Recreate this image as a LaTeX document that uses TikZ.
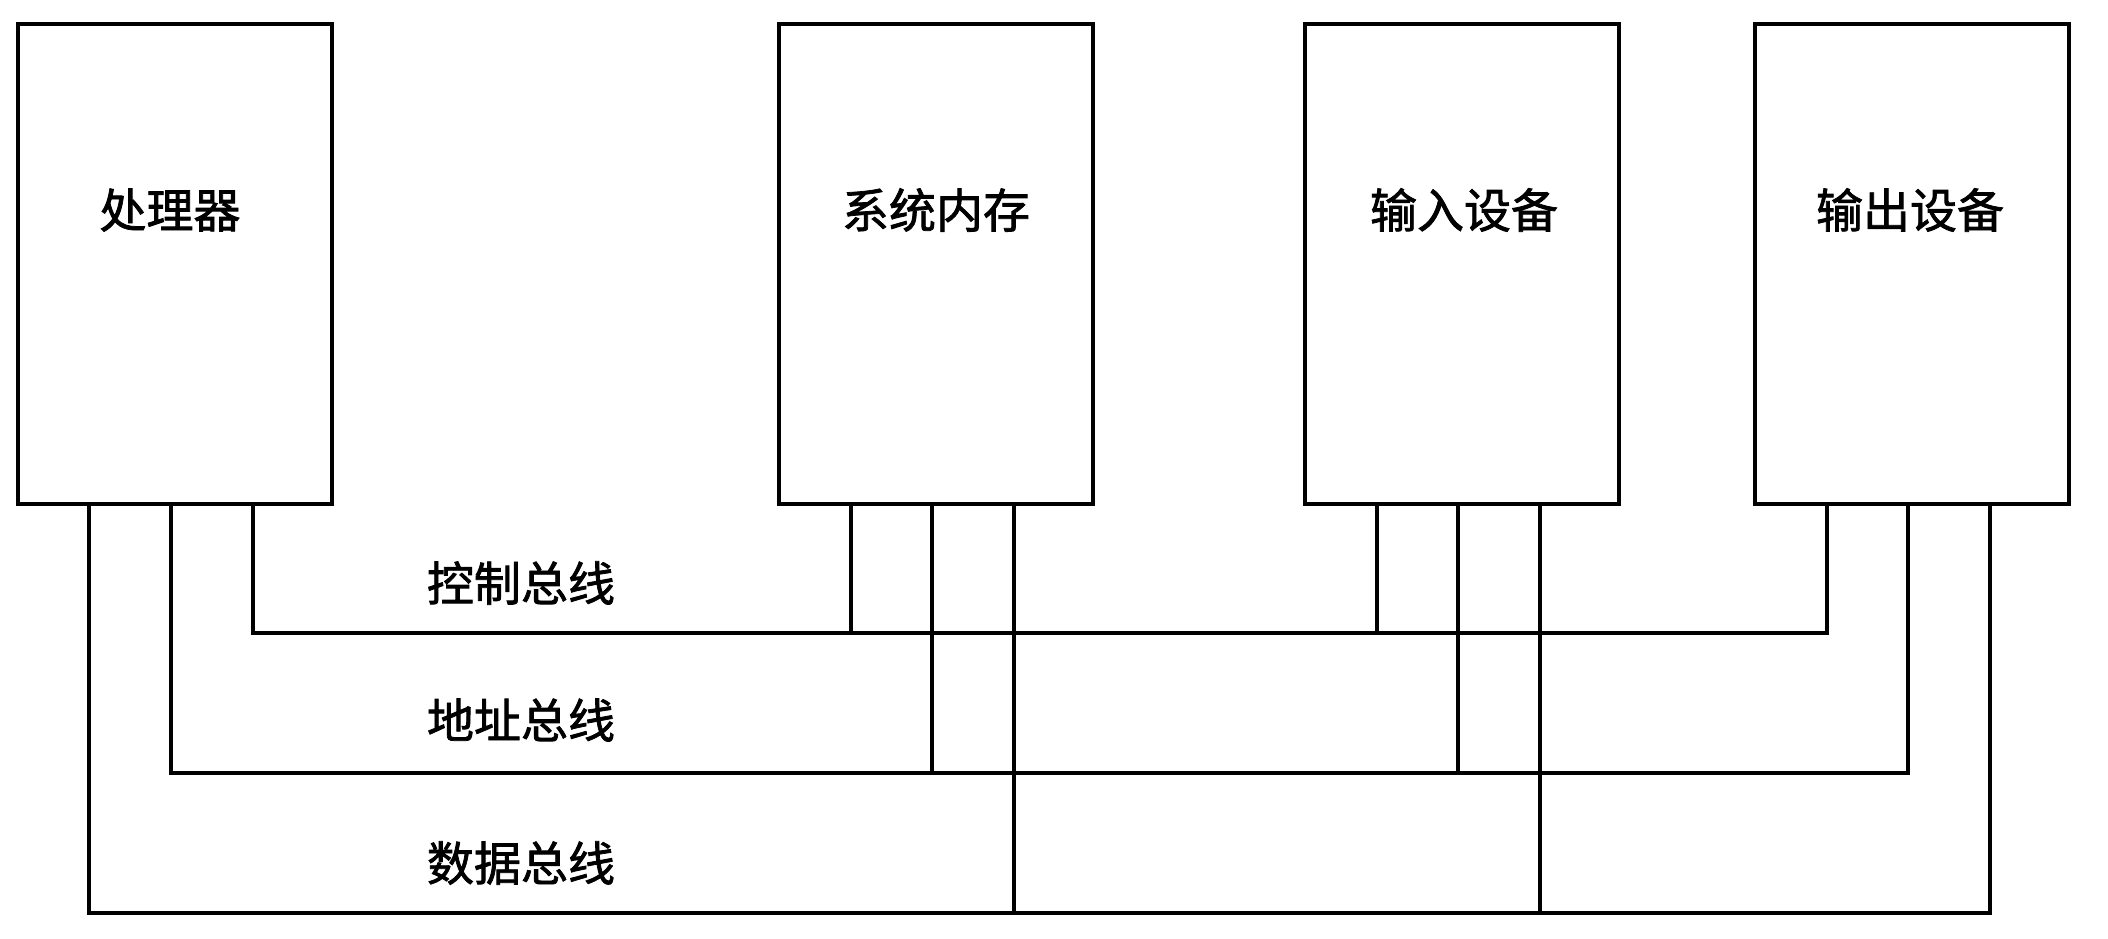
\documentclass[tikz,border=0pt]{standalone}
\usepackage{fontspec}
\newfontfamily\cjk[FakeBold=1.6]{Noto Sans CJK SC}
\usetikzlibrary{calc}

\begin{document}
\begin{tikzpicture}[
  x=0.5pt, y=-0.5pt,
  unitbox/.style={draw, line width=2pt, rectangle, inner sep=0pt,
                  minimum width=157pt, minimum height=240pt},
  caption/.style={font=\cjk\fontsize{23.5pt}{26pt}\selectfont, inner sep=0pt},
  bus/.style={line width=1.9pt, line join=miter}
]
\useasboundingbox (0,0) rectangle (2108,938);

% units attached to the buses
\node[unitbox] (cpu) at (175,264) {};
\node[unitbox] (mem) at (936,264) {};
\node[unitbox] (inp) at (1462,264) {};
\node[unitbox] (outp) at (1912,264) {};

\node[caption] (cpulbl) at (170,210) {处理器};
\node[caption] (memlbl) at (936,210) {系统内存};
\node[caption] (inplbl) at (1464,210) {输入设备};
\node[caption] (outlbl) at (1910,210) {输出设备};

% bus levels
\coordinate (ctl) at (0,633);
\coordinate (adr) at (0,773);
\coordinate (dat) at (0,913);

% tap points on the processor (data, address, control from the left)
\coordinate (cpuD) at ($(cpu.south west)+(73,0)$);
\coordinate (cpuA) at ($(cpu.south west)+(155,0)$);
\coordinate (cpuC) at ($(cpu.south west)+(237,0)$);
% tap points on the other units (control, address, data from the left)
\foreach \u in {mem,inp,outp}{
  \coordinate (\u C) at ($(\u.south west)+(74,0)$);
  \coordinate (\u A) at ($(\u.south west)+(155,0)$);
  \coordinate (\u D) at ($(\u.south west)+(237,0)$);
}

% control bus
\draw[bus] (cpuC) -- (cpuC |- ctl) -- (outpC |- ctl) -- (outpC);
\draw[bus] (memC) -- (memC |- ctl);
\draw[bus] (inpC) -- (inpC |- ctl);
% address bus
\draw[bus] (cpuA) -- (cpuA |- adr) -- (outpA |- adr) -- (outpA);
\draw[bus] (memA) -- (memA |- adr);
\draw[bus] (inpA) -- (inpA |- adr);
% data bus
\draw[bus] (cpuD) -- (cpuD |- dat) -- (outpD |- dat) -- (outpD);
\draw[bus] (memD) -- (memD |- dat);
\draw[bus] (inpD) -- (inpD |- dat);

% bus names
\node[caption] (ctllbl) at (521,583) {控制总线};
\node[caption] (adrlbl) at (521,720) {地址总线};
\node[caption] (datlbl) at (521,863) {数据总线};
\end{tikzpicture}
\end{document}
